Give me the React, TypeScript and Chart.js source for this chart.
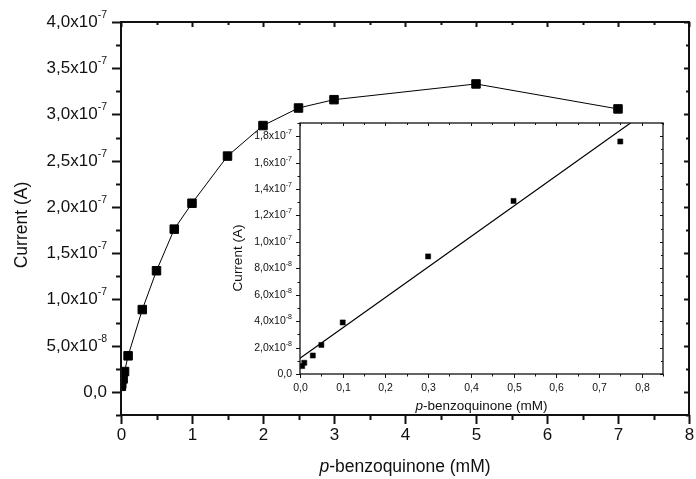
import React, { useEffect, useRef } from "react";
import { Chart, registerables } from "chart.js";

Chart.register(...registerables);

// ---------- data ----------
const concentration = [0.005, 0.01, 0.03, 0.05, 0.1, 0.3, 0.5, 0.75, 1.0, 1.5, 2.0, 2.5, 3.0, 5.0, 7.0];
const current = [6e-9, 8.5e-9, 1.4e-8, 2.2e-8, 3.9e-8, 8.9e-8, 1.31e-7, 1.76e-7, 2.04e-7, 2.55e-7, 2.88e-7, 3.07e-7, 3.16e-7, 3.33e-7, 3.06e-7];

const insetConcentration = [0.005, 0.01, 0.03, 0.05, 0.1, 0.3, 0.5, 0.75];
const insetCurrent = [6e-9, 8.5e-9, 1.4e-8, 2.2e-8, 3.9e-8, 8.9e-8, 1.31e-7, 1.76e-7];

const fitConcentration = [0, 0.85];
const fitCurrent = [1.2e-8, 2.075e-7];

// ---------- ticks ----------
const mainXTickValues = [0, 1, 2, 3, 4, 5, 6, 7, 8];
const mainXTickLabels = ["0", "1", "2", "3", "4", "5", "6", "7", "8"];
const mainXMinorValues = [0.5, 1.5, 2.5, 3.5, 4.5, 5.5, 6.5, 7.5];
const mainYTickValues = [0, 5e-8, 1e-7, 1.5e-7, 2e-7, 2.5e-7, 3e-7, 3.5e-7, 4e-7];
const mainYTickLabels = ["0,0", "5,0x10-8", "1,0x10-7", "1,5x10-7", "2,0x10-7", "2,5x10-7", "3,0x10-7", "3,5x10-7", "4,0x10-7"];
const mainYMinorValues = [-2.5e-8, 2.5e-8, 7.5e-8, 1.25e-7, 1.75e-7, 2.25e-7, 2.75e-7, 3.25e-7, 3.75e-7];

const insetXTickValues = [0, 0.1, 0.2, 0.3, 0.4, 0.5, 0.6, 0.7, 0.8];
const insetXTickLabels = ["0,0", "0,1", "0,2", "0,3", "0,4", "0,5", "0,6", "0,7", "0,8"];
const insetXMinorValues = [0.05, 0.15, 0.25, 0.35, 0.45, 0.55, 0.65, 0.75, 0.85];
const insetYTickValues = [0, 2e-8, 4e-8, 6e-8, 8e-8, 1e-7, 1.2e-7, 1.4e-7, 1.6e-7, 1.8e-7];
const insetYTickLabels = ["0,0", "2,0x10-8", "4,0x10-8", "6,0x10-8", "8,0x10-8", "1,0x10-7", "1,2x10-7", "1,4x10-7", "1,6x10-7", "1,8x10-7"];
const insetYMinorValues = [1e-8, 3e-8, 5e-8, 7e-8, 9e-8, 1.1e-7, 1.3e-7, 1.5e-7, 1.7e-7, 1.9e-7];

const yTitle = "Current (A)";
const xTitleItalic = "p";
const xTitleRest = "-benzoquinone (mM)";

const FAMILY = '"Liberation Sans", Arial, Helvetica, sans-serif';
const INK = "#111";

type AxisStyle = {
  frameWidth: number;
  outMajor: number;
  outMinor: number;
  inMajor: number;
  inMinor: number;
  tickWidth: number;
  tickFont: number;
  supFont: number;
  supRaise: number;
  yLabelGap: number;
  xLabelOffset: number;
  titleFont: number;
  yTitleX: number;
  yTitleY: number;
  xTitleY: number;
  xTickValues: number[];
  xTickLabels: string[];
  xMinor: number[];
  yTickValues: number[];
  yTickLabels: string[];
  yMinor: number[];
};

function drawSci(ctx: CanvasRenderingContext2D, text: string, xRight: number, y: number, s: AxisStyle) {
  const m = text.match(/^(.*x10)(.*)$/);
  ctx.textBaseline = "middle";
  if (!m) {
    ctx.font = `${s.tickFont}px ${FAMILY}`;
    ctx.textAlign = "right";
    ctx.fillText(text, xRight, y);
    return;
  }
  ctx.font = `${s.supFont}px ${FAMILY}`;
  const ew = ctx.measureText(m[2]).width;
  ctx.textAlign = "left";
  ctx.fillText(m[2], xRight - ew, y - s.supRaise);
  ctx.font = `${s.tickFont}px ${FAMILY}`;
  ctx.textAlign = "right";
  ctx.fillText(m[1], xRight - ew, y);
}

function axesPlugin(s: AxisStyle) {
  return {
    id: "originAxes",
    afterDraw(chart: any) {
      const ctx: CanvasRenderingContext2D = chart.ctx;
      const a = chart.chartArea;
      const xs = chart.scales.x;
      const ys = chart.scales.y;
      ctx.save();
      ctx.strokeStyle = INK;
      ctx.fillStyle = INK;
      ctx.lineWidth = s.frameWidth;
      ctx.strokeRect(a.left, a.top, a.right - a.left, a.bottom - a.top);
      ctx.lineWidth = s.tickWidth;
      const line = (x1: number, y1: number, x2: number, y2: number) => {
        ctx.beginPath();
        ctx.moveTo(x1, y1);
        ctx.lineTo(x2, y2);
        ctx.stroke();
      };
      s.yTickValues.forEach((v, i) => {
        const py = Math.round(ys.getPixelForValue(v)) + 0.5;
        line(a.left - s.outMajor, py, a.left, py);
        line(a.right, py, a.right - s.inMajor, py);
        drawSci(ctx, s.yTickLabels[i], a.left - s.outMajor - s.yLabelGap, py, s);
      });
      s.yMinor.forEach((v) => {
        const py = Math.round(ys.getPixelForValue(v)) + 0.5;
        line(a.left - s.outMinor, py, a.left, py);
        line(a.right, py, a.right - s.inMinor, py);
      });
      ctx.font = `${s.tickFont}px ${FAMILY}`;
      ctx.textAlign = "center";
      ctx.textBaseline = "middle";
      s.xTickValues.forEach((v, i) => {
        const px = Math.round(xs.getPixelForValue(v)) + 0.5;
        line(px, a.bottom, px, a.bottom + s.outMajor);
        line(px, a.top, px, a.top + s.inMajor);
        ctx.fillText(s.xTickLabels[i], px, a.bottom + s.xLabelOffset);
      });
      s.xMinor.forEach((v) => {
        const px = Math.round(xs.getPixelForValue(v)) + 0.5;
        line(px, a.bottom, px, a.bottom + s.outMinor);
        line(px, a.top, px, a.top + s.inMinor);
      });
      ctx.save();
      ctx.translate(s.yTitleX, s.yTitleY);
      ctx.rotate(-Math.PI / 2);
      ctx.font = `${s.titleFont}px ${FAMILY}`;
      ctx.textAlign = "center";
      ctx.textBaseline = "middle";
      ctx.fillText(yTitle, 0, 0);
      ctx.restore();

      const cx = (a.left + a.right) / 2;
      ctx.font = `italic ${s.titleFont}px ${FAMILY}`;
      const w1 = ctx.measureText(xTitleItalic).width;
      ctx.font = `${s.titleFont}px ${FAMILY}`;
      const w2 = ctx.measureText(xTitleRest).width;
      const start = cx - (w1 + w2) / 2;
      ctx.textAlign = "left";
      ctx.textBaseline = "middle";
      ctx.font = `italic ${s.titleFont}px ${FAMILY}`;
      ctx.fillText(xTitleItalic, start, s.xTitleY);
      ctx.font = `${s.titleFont}px ${FAMILY}`;
      ctx.fillText(xTitleRest, start + w1, s.xTitleY);
      ctx.restore();
    },
  };
}

const mainStyle: AxisStyle = {
  frameWidth: 2,
  outMajor: 9,
  outMinor: 5,
  inMajor: 5,
  inMinor: 3,
  tickWidth: 2,
  tickFont: 17,
  supFont: 10.5,
  supRaise: 7,
  yLabelGap: 5,
  xLabelOffset: 20,
  titleFont: 17.5,
  yTitleX: 22,
  yTitleY: 225,
  xTitleY: 467,
  xTickValues: mainXTickValues,
  xTickLabels: mainXTickLabels,
  xMinor: mainXMinorValues,
  yTickValues: mainYTickValues,
  yTickLabels: mainYTickLabels,
  yMinor: mainYMinorValues,
};

const insetStyle: AxisStyle = {
  frameWidth: 1.3,
  outMajor: 4,
  outMinor: 2.5,
  inMajor: 3,
  inMinor: 2,
  tickWidth: 1,
  tickFont: 10.5,
  supFont: 7,
  supRaise: 4.5,
  yLabelGap: 4,
  xLabelOffset: 14,
  titleFont: 13.5,
  yTitleX: 18,
  yTitleY: 148,
  xTitleY: 296,
  xTickValues: insetXTickValues,
  xTickLabels: insetXTickLabels,
  xMinor: insetXMinorValues,
  yTickValues: insetYTickValues,
  yTickLabels: insetYTickLabels,
  yMinor: insetYMinorValues,
};

function MainChart() {
  const ref = useRef<HTMLCanvasElement | null>(null);
  useEffect(() => {
    if (!ref.current) return;
    const chart = new Chart(ref.current, {
      type: "scatter",
      data: {
        datasets: [
          {
            data: concentration.map((x, i) => ({ x, y: current[i] })),
            showLine: true,
            borderColor: "#000",
            borderWidth: 1,
            backgroundColor: "#000",
            pointStyle: "rect",
            pointRadius: 6,
            pointBorderWidth: 1,
            pointBorderColor: "#000",
            pointBackgroundColor: "#000",
            clip: 0,
          } as any,
        ],
      },
      options: {
        animation: false,
        responsive: false,
        devicePixelRatio: 1,
        layout: { padding: { left: 121, top: 22, right: 3, bottom: 64 } },
        plugins: { legend: { display: false }, tooltip: { enabled: false } },
        scales: {
          x: { type: "linear", display: false, min: 0, max: 8 },
          y: { type: "linear", display: false, min: -2.5e-8, max: 4e-7 },
        },
      },
      plugins: [axesPlugin(mainStyle)],
    });
    return () => chart.destroy();
  }, []);
  return <canvas ref={ref} width={696} height={479} style={{ position: "absolute", left: 0, top: 0, display: "block" }} />;
}

function InsetChart() {
  const ref = useRef<HTMLCanvasElement | null>(null);
  useEffect(() => {
    if (!ref.current) return;
    const chart = new Chart(ref.current, {
      type: "scatter",
      data: {
        datasets: [
          {
            data: insetConcentration.map((x, i) => ({ x, y: insetCurrent[i] })),
            showLine: false,
            backgroundColor: "#000",
            pointStyle: "rect",
            pointRadius: 3.6,
            pointBorderWidth: 0.5,
            pointBorderColor: "#000",
            pointBackgroundColor: "#000",
            clip: 0,
          } as any,
          {
            data: fitConcentration.map((x, i) => ({ x, y: fitCurrent[i] })),
            showLine: true,
            borderColor: "#000",
            borderWidth: 1.2,
            pointRadius: 0,
            clip: 0,
          } as any,
        ],
      },
      options: {
        animation: false,
        responsive: false,
        devicePixelRatio: 1,
        layout: { padding: { left: 80, top: 13, right: 27, bottom: 46 } },
        plugins: { legend: { display: false }, tooltip: { enabled: false } },
        scales: {
          x: { type: "linear", display: false, min: 0, max: 0.85 },
          y: { type: "linear", display: false, min: 0, max: 1.9e-7 },
        },
      },
      plugins: [axesPlugin(insetStyle)],
    });
    return () => chart.destroy();
  }, []);
  return <canvas ref={ref} width={470} height={310} style={{ position: "absolute", left: 220, top: 110, display: "block" }} />;
}

export default function App() {
  return (
    <div style={{ position: "absolute", left: 0, top: 0, width: 696, height: 479, background: "#fff", overflow: "hidden" }}>
      <MainChart />
      <InsetChart />
    </div>
  );
}
